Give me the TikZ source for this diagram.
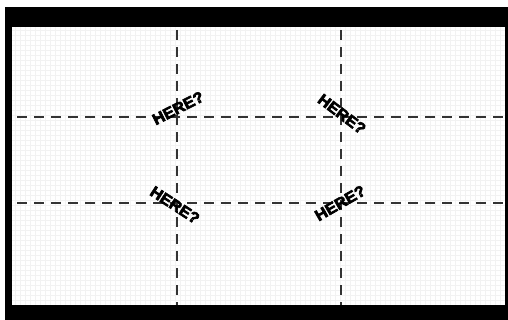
\documentclass[tikz,border=0pt]{standalone}
\usepackage{fontspec}
\setmainfont{Liberation Sans}
\newfontfamily\heavyfont[FakeBold=4]{Liberation Sans Bold}
\tikzset{guide/.style={dash pattern=on 10pt off 7pt, line width=2pt, black!80}}
\tikzset{here/.style={font=\heavyfont\fontsize{15.5}{15.5}\selectfont, inner sep=0pt}}

\begin{document}
\begin{tikzpicture}[x=1pt,y=-1pt]
    \useasboundingbox (0,0) rectangle (508,320);
    % Draw the paper with its faint grid
    \fill[white] (0,0) rectangle (508,320);
    \foreach \gx in {15,20,...,505}
        \draw[gray!10, line width=0.5pt] (\gx,27) -- (\gx,305);
    \foreach \gy in {30,35,...,305}
        \draw[gray!10, line width=0.5pt] (12,\gy) -- (505,\gy);

    % Draw the black frame
    \fill[black] (5,7) rectangle (508,27);
    \fill[black] (5,7) rectangle (12,320);
    \fill[black] (5,305) rectangle (508,320);
    \fill[black] (505,7) rectangle (508,320);

    % Ends of the guide lines
    \coordinate (t1) at (177,30);
    \coordinate (b1) at (177,305);
    \coordinate (t2) at (341,30);
    \coordinate (b2) at (341,305);
    \coordinate (l1) at (17,117);
    \coordinate (r1) at (505,117);
    \coordinate (l2) at (17,203);
    \coordinate (r2) at (505,203);

    % Draw the dashed guides
    \draw[guide] (t1) -- (b1);
    \draw[guide] (t2) -- (b2);
    \draw[guide] (l1) -- (r1);
    \draw[guide] (l2) -- (r2);

    % Label the crossings
    \node[here, rotate=27, xscale=1.05] (hereTL) at (178,108) {HERE?};
    \node[here, rotate=-37, xscale=1.05] (hereTR) at (342,114) {HERE?};
    \node[here, rotate=-33, xscale=1.05] (hereBL) at (175,205) {HERE?};
    \node[here, rotate=30, xscale=1.05] (hereBR) at (340,203) {HERE?};
\end{tikzpicture}
\end{document}
